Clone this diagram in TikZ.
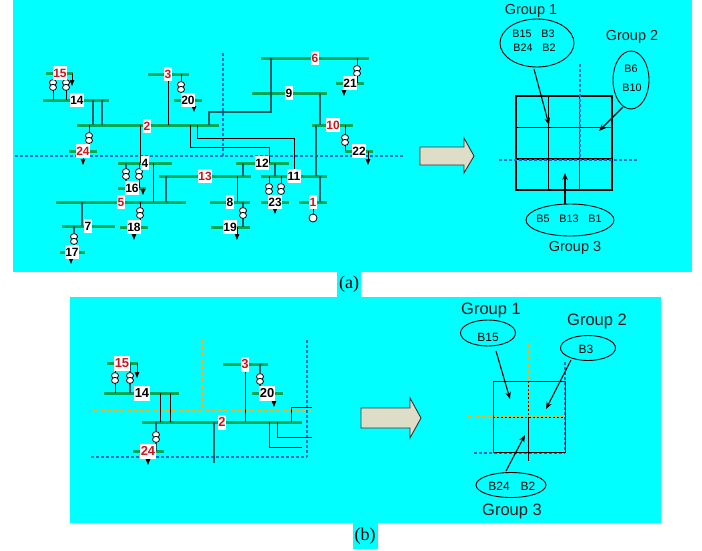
\documentclass[tikz,border=0pt]{standalone}
\usepackage{fontspec}
\setmainfont{Liberation Sans}
\newfontfamily\capfont{Liberation Serif}
\usetikzlibrary{arrows.meta,shapes.geometric}
\definecolor{panel}{RGB}{0,255,255}
\definecolor{busgreen}{RGB}{0,170,85}
\definecolor{linkteal}{RGB}{0,95,100}
\definecolor{cutblue}{RGB}{10,110,210}
\definecolor{cutorange}{RGB}{250,175,20}
\definecolor{labred}{RGB}{205,20,30}
\definecolor{arrowfill}{RGB}{221,221,200}
\tikzset{
  x=1pt,y=-1pt,
  busbar/.style={fill=busgreen,draw=none,inner sep=0pt,minimum height=3pt,outer sep=0pt},
  numlab/.style={fill=white,inner xsep=0.3pt,inner ysep=0pt,minimum height=14pt,font=\fontsize{12}{12}\selectfont\bfseries},
  redlab/.style={numlab,text=labred},
  numlabb/.style={numlab,inner xsep=0.5pt,minimum height=15pt,font=\fontsize{13}{13}\selectfont\bfseries},
  redlabb/.style={numlabb,text=labred},
  link/.style={draw=black,line width=1pt},
  tlink/.style={draw=linkteal,line width=1.1pt},
  loadarrow/.style={draw=black,line width=0.9pt,-{Triangle[length=6pt,width=4.5pt]}},
  coil/.style={draw=black,fill=white,line width=0.8pt,ellipse,inner sep=0pt,minimum width=7pt,minimum height=6pt},
  gen/.style={draw=black,fill=white,line width=0.8pt,circle,inner sep=0pt,minimum size=8pt},
  cutb/.style={draw=cutblue,line width=1.4pt,dash pattern=on 3pt off 2pt},
  cuto/.style={draw=cutorange,line width=1.6pt,dash pattern=on 4pt off 2.5pt},
  grp/.style={font=\fontsize{14.5}{15}\selectfont,inner sep=0pt,text=black!90},
  grpb/.style={grp,font=\fontsize{16.5}{17}\selectfont},
  bname/.style={font=\fontsize{10.8}{11}\selectfont,inner sep=0pt},
  bnameb/.style={font=\fontsize{12}{12}\selectfont,inner sep=0pt},
  grpell/.style={draw=black,line width=0.9pt,ellipse,inner sep=0pt},
  gridln/.style={draw=black,line width=0.9pt},
  gridb/.style={draw=black,line width=1.1pt},
  callout/.style={draw=black,line width=1.1pt,-{Stealth[length=7pt,width=5.5pt]}},
  bigarrow/.style={draw=black!80,fill=arrowfill,line width=0.9pt},
  figcap/.style={font=\capfont\fontsize{18}{18}\selectfont,inner sep=0pt},
}
% name, x1, x2, y
\newcommand{\busbar}[4]{\node[busbar,minimum width=#3pt-#2pt] (#1) at ({(#2+#3)/2},#4) {};}
% bus to bus through a transformer: name, x, y, bus above, bus below, style
\newcommand{\xformer}[6]{%
  \coordinate (#1) at (#2,#3);
  \draw[#6] (#2,0 |- #4.center) -- (#2,0 |- #5.center);
  \node[coil] (#1u) at (#2,#3-2.4) {};
  \node[coil] (#1d) at (#2,#3+2.4) {};}
% vertical connector at x between two nodes
\newcommand{\vlink}[4][link]{\draw[#1] (#2,0 |- #3.center) -- (#2,0 |- #4.center);}
\begin{document}
\begin{tikzpicture}
\useasboundingbox (0,0) rectangle (702,550);
\fill[white] (0,0) rectangle (702,550);
\fill[panel] (13,0) rectangle (692,272);
\fill[panel] (70,297) rectangle (661,523);
\fill[panel] (337,272) rectangle (361,297);
\fill[panel] (353,523) rectangle (378,549);
% ---------------- panel (a), network
\draw[cutb] (15,156) -- (404,156);
\draw[cutb] (223,53) -- (223,156);
\busbar{aB15}{46}{73}{73}
\busbar{aB14}{43}{109}{100}
\busbar{aB2}{77}{219}{125}
\busbar{aB3}{148}{189}{74}
\busbar{aB20}{174}{202}{100}
\busbar{aB24}{69}{97}{151}
\busbar{aB6}{261}{369}{58}
\busbar{aB21}{336}{364}{83}
\busbar{aB9}{252}{327}{93}
\busbar{aB10}{312}{353}{125}
\busbar{aB22}{345}{373}{151}
\busbar{aB4}{118}{172}{163}
\busbar{aB16}{118}{146}{188}
\busbar{aB5}{56}{186}{202}
\busbar{aB13}{159}{251}{176}
\busbar{aB18}{120}{148}{227}
\busbar{aB7}{62}{115}{226}
\busbar{aB17}{60}{85}{252}
\busbar{aB12}{236}{289}{163}
\busbar{aB11}{261}{327}{176}
\busbar{aB23}{261}{289}{202}
\busbar{aB8}{210}{250}{202}
\busbar{aB19}{211}{250}{227}
\busbar{aB1}{299}{327}{202}
\vlink[tlink]{93}{aB14}{aB2}
\vlink[tlink]{102}{aB14}{aB2}
\vlink{168}{aB3}{aB2}
\vlink{140}{aB2}{aB4}
\vlink[tlink]{320}{aB9}{aB10}
\vlink[tlink]{316}{aB10}{aB11}
\vlink{153}{aB4}{aB5}
\vlink[tlink]{166}{aB13}{aB5}
\vlink[tlink]{82}{aB5}{aB7}
\vlink[tlink]{243}{aB12}{aB13}
\vlink[tlink]{275}{aB12}{aB11}
\vlink{237}{aB13}{aB8}
\vlink[tlink]{320}{aB11}{aB1}
\draw[tlink] (209,0 |- aB2.center) -- (209,112) -- (271,112) -- (271,0 |- aB6.center);
\draw[link] (197,0 |- aB2.center) -- (197,138) -- (294,138) -- (294,0 |- aB11.center);
\draw[link] (190,0 |- aB2.center) -- (190,147) -- (269,147) -- (269,0 |- aB12.center);
\xformer{aT1}{53}{85}{aB15}{aB14}{link}
\xformer{aT2}{66}{85}{aB15}{aB14}{link}
\xformer{aT3}{181}{87}{aB3}{aB20}{link}
\xformer{aT4}{89}{138}{aB2}{aB24}{link}
\xformer{aT5}{357}{71}{aB6}{aB21}{link}
\xformer{aT6}{345}{140}{aB10}{aB22}{link}
\xformer{aT7}{126}{174}{aB4}{aB16}{tlink}
\xformer{aT8}{139}{174}{aB4}{aB16}{link}
\xformer{aT9}{140}{213}{aB5}{aB18}{link}
\xformer{aT10}{74}{239}{aB7}{aB17}{tlink}
\xformer{aT11}{269}{189}{aB11}{aB23}{link}
\xformer{aT12}{281}{189}{aB11}{aB23}{link}
\xformer{aT13}{243}{213}{aB8}{aB19}{tlink}
\node[gen] (aG) at (313,218) {};
\draw[link] (313,0 |- aB1.center) -- (aG);
\foreach \n/\px/\ty in {aL1/72/86,aL2/194/112,aL3/83/165,aL4/344/96,aL5/368/165,aL6/143/195,aL7/134/240,aL8/71/264,aL9/275/214,aL10/237/240}{\coordinate (\n) at (\px,\ty);}
\draw[loadarrow] (72,0 |- aB15.center) -- (aL1);
\draw[loadarrow] (194,0 |- aB20.center) -- (aL2);
\draw[loadarrow] (83,0 |- aB24.center) -- (aL3);
\draw[loadarrow] (344,0 |- aB21.center) -- (aL4);
\draw[loadarrow] (368,0 |- aB22.center) -- (aL5);
\draw[loadarrow] (143,0 |- aB16.center) -- (aL6);
\draw[loadarrow] (134,0 |- aB18.center) -- (aL7);
\draw[loadarrow] (71,0 |- aB17.center) -- (aL8);
\draw[loadarrow] (275,0 |- aB23.center) -- (aL9);
\draw[loadarrow] (237,0 |- aB19.center) -- (aL10);
\node[redlab] (at15) at (60,73) {15};
\node[numlab] (at14) at (77,100) {14};
\node[redlab] (at2) at (147,126) {2};
\node[redlab] (at3) at (168,74) {3};
\node[numlab] (at20) at (188,100) {20};
\node[redlab] (at24) at (83,151) {24};
\node[redlab] (at6) at (315,58) {6};
\node[numlab] (at21) at (350,83) {21};
\node[numlab] (at9) at (289,93) {9};
\node[redlab] (at10) at (333,125) {10};
\node[numlab] (at22) at (359,151) {22};
\node[numlab] (at4) at (145,163) {4};
\node[numlab] (at16) at (132,188) {16};
\node[redlab] (at5) at (121,202) {5};
\node[redlab] (at13) at (205,176) {13};
\node[numlab] (at18) at (134,227) {18};
\node[numlab] (at7) at (88,226) {7};
\node[numlab] (at17) at (72,252) {17};
\node[numlab] (at12) at (262,163) {12};
\node[numlab] (at11) at (294,176) {11};
\node[numlab] (at23) at (275,202) {23};
\node[numlab] (at8) at (230,202) {8};
\node[numlab] (at19) at (230,227) {19};
\node[redlab] (at1) at (313,202) {1};
% ---------------- panel (a), right
\draw[bigarrow] (420,147) -- (464,147) -- (464,138) -- (474,156) -- (464,173) -- (464,165) -- (420,165) -- cycle;
\draw[gridln] (548,96) -- (548,190);
\draw[gridln] (579,96) -- (579,190);
\draw[gridln] (516,127) -- (612,127);
\draw[gridb] (516,96) rectangle (612,190);
\draw[gridb] (516,159) -- (612,159);
\draw[cutb] (499,160) -- (637,160);
\draw[cutb] (580,64) -- (580,160);
\node[grpell,minimum width=74pt,minimum height=48pt] (ag1) at (537,43) {};
\node[grpell,minimum width=36pt,minimum height=58pt] (ag2) at (631,80) {};
\node[grpell,minimum width=88pt,minimum height=32pt] (ag3) at (570,220) {};
\node[grp] (agt1) at (531,11) {Group 1};
\node[grp] (agt2) at (632,37) {Group 2};
\node[grp] (agt3) at (575,248) {Group 3};
\node[bname] (ab15) at (522,34) {B15};
\node[bname] (ab3) at (548,34) {B3};
\node[bname] (ab24) at (523,48) {B24};
\node[bname] (ab2) at (549,48) {B2};
\node[bname] (ab6) at (631,69) {B6};
\node[bname] (ab10) at (632,88) {B10};
\node[bname] (ab5) at (543,219) {B5};
\node[bname] (ab13) at (569,219) {B13};
\node[bname] (ab1) at (595,219) {B1};
\coordinate (aa1) at (549,125);
\coordinate (aa2) at (599,131);
\coordinate (aa3) at (565,173);
\draw[callout] (ag1) ++(-3,26) -- (aa1);
\draw[callout] (ag2) ++(-8,27) -- (aa2);
\draw[callout] (565,0 |- ag3.north) -- (aa3);
\node[figcap] (capa) at (349,284.5) {(a)};
% ---------------- panel (b), network
\draw[cuto] (94,410) -- (312,410);
\draw[cuto] (202,339) -- (202,410);
\draw[cutb] (307,340) -- (307,457);
\draw[cutb] (91,457) -- (307,457);
\busbar{bB15}{107}{138}{363}
\busbar{bB14}{104}{179}{393}
\busbar{bB2}{142}{302}{422}
\busbar{bB3}{223}{268}{364}
\busbar{bB20}{252}{283}{393}
\busbar{bB24}{133}{164}{451}
\vlink{160}{bB14}{bB2}
\vlink{170}{bB14}{bB2}
\vlink{245}{bB3}{bB2}
\coordinate (bE1) at (312,407);
\coordinate (bE2) at (312,437);
\coordinate (bE3) at (302,447);
\coordinate (bE4) at (214,463);
\draw[link] (291,0 |- bB2.center) |- (bE1);
\draw[link] (277,0 |- bB2.center) |- (bE2);
\draw[link] (269,0 |- bB2.center) |- (bE3);
\draw[tlink] (214,0 |- bB2.center) -- (bE4);
\xformer{bT1}{115}{378}{bB15}{bB14}{link}
\xformer{bT2}{130}{378}{bB15}{bB14}{tlink}
\xformer{bT3}{260}{379}{bB3}{bB20}{tlink}
\xformer{bT4}{156}{437}{bB2}{bB24}{tlink}
\coordinate (bL1) at (137,378);
\coordinate (bL2) at (274,407);
\coordinate (bL3) at (148,465);
\draw[loadarrow] (137,0 |- bB15.center) -- (bL1);
\draw[loadarrow] (274,0 |- bB20.center) -- (bL2);
\draw[loadarrow] (148,0 |- bB24.center) -- (bL3);
\node[redlabb] (bt15) at (122,363) {15};
\node[numlabb] (bt14) at (142,393) {14};
\node[redlabb] (bt2) at (222,422) {2};
\node[redlabb] (bt3) at (245,364) {3};
\node[numlabb] (bt20) at (267,393) {20};
\node[redlabb] (bt24) at (148,451) {24};
% ---------------- panel (b), right
\draw[bigarrow] (361,408) -- (410,408) -- (410,398) -- (421,418) -- (410,438) -- (410,428) -- (361,428) -- cycle;
\draw[cutb] (565,362) -- (565,453);
\draw[cutb] (474,453) -- (565,453);
\draw[gridln] (493,381) rectangle (565,452);
\draw[link] (528,416) -- (528,461);
\draw[cuto] (528,343) -- (528,416);
\draw[cuto] (468,416) -- (565,416);
\draw[draw=black,line width=0.7pt,dash pattern=on 2pt off 2pt] (528,381) -- (528,416);
\draw[draw=black,line width=0.7pt,dash pattern=on 2pt off 2pt] (493,417) -- (565,417);
\draw[draw=black,line width=0.7pt,dash pattern=on 2pt off 2pt] (565,381) -- (565,452);
\node[grpell,minimum width=55pt,minimum height=26pt] (bg1) at (488,333) {};
\node[grpell,minimum width=55pt,minimum height=25pt] (bg2) at (588,348) {};
\node[grpell,minimum width=70pt,minimum height=25pt] (bg3) at (511,485) {};
\node[grpb] (bgt1) at (491,310) {Group 1};
\node[grpb] (bgt2) at (597,321) {Group 2};
\node[grpb] (bgt3) at (512,511) {Group 3};
\node[bnameb] (bb15) at (488,337) {B15};
\node[bnameb] (bb3) at (586,349) {B3};
\node[bnameb] (bb24) at (499,486) {B24};
\node[bnameb] (bb2) at (528,486) {B2};
\coordinate (ba1) at (510,399);
\coordinate (ba2) at (546,409);
\coordinate (ba3) at (525,435);
\draw[callout] (bg1) ++(8,18) -- (ba1);
\draw[callout] (bg2) ++(-17,12) -- (ba2);
\draw[callout] (bg3) ++(-5,-14) -- (ba3);
\node[figcap] (capb) at (365,536) {(b)};
\end{tikzpicture}
\end{document}
